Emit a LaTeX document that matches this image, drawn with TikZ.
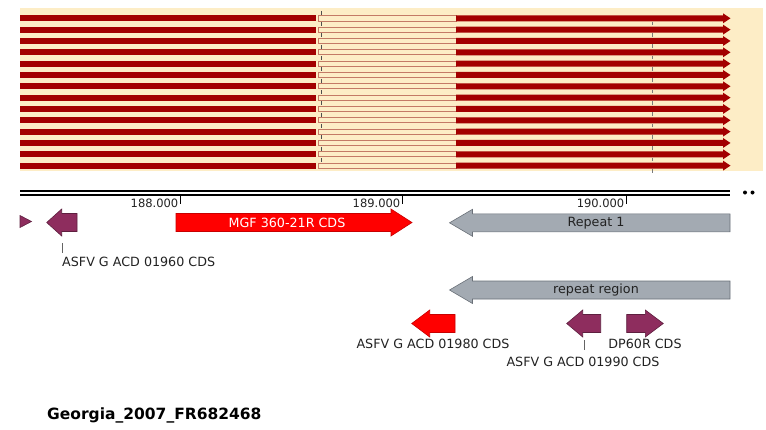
\documentclass[tikz,border=0pt]{standalone}
\usepackage{fontspec}
\setmainfont{DejaVu Sans}
\usetikzlibrary{positioning}
\definecolor{gdpanel}{HTML}{FDEDC6}
\definecolor{gdbar}{HTML}{A30000}
\definecolor{gdthin}{HTML}{C47A66}
\definecolor{gdred}{HTML}{FF0000}
\definecolor{gdredln}{HTML}{C80000}
\definecolor{gdpurp}{HTML}{8E2D5E}
\definecolor{gdpurpln}{HTML}{5E1F3F}
\definecolor{gdgrey}{HTML}{A3AAB2}
\definecolor{gdgreyln}{HTML}{6A7078}
\definecolor{gdink}{HTML}{222222}
\tikzset{
  lbl/.style={font=\fontsize{12.7}{15}\selectfont, text=gdink, inner sep=0pt},
  tck/.style={font=\fontsize{11.5}{14}\selectfont, text=gdink, inner sep=0pt, anchor=east},
  ttl/.style={font=\fontsize{15.5}{18}\selectfont\bfseries, text=black, inner sep=0pt, anchor=west},
  redf/.style={fill=gdred, draw=gdredln, line width=0.6pt},
  purf/.style={fill=gdpurp, draw=gdpurpln, line width=0.6pt},
  greyf/.style={fill=gdgrey, draw=gdgreyln, line width=0.6pt},
  lead/.style={draw=gdink!70, line width=0.5pt},
}
% left / right pointing feature: [style]{tip or tail}{tip or tail}{y}{head}
\newcommand\featL[5][]{\path[#1] (#2,#4) -- ++(#5,-13.5) -- ++(0,4.5) -- (#3,#4-9)
  -- (#3,#4+9) -- (#2+#5,#4+9) -- ++(0,4.5) -- cycle;}
\newcommand\featR[5][]{\path[#1] (#3,#4) -- ++(-#5,-13.5) -- ++(0,4.5) -- (#2,#4-9)
  -- (#2,#4+9) -- (#3-#5,#4+9) -- ++(0,4.5) -- cycle;}

\begin{document}
\begin{tikzpicture}[x=1pt, y=-1pt]
  \useasboundingbox (0,0) rectangle (766,429);
  % alignment panel
  \fill[gdpanel] (20,7.5) rectangle (763,171);
  \foreach \i in {0,...,13}{
    \pgfmathsetmacro\yy{18.3+11.33*\i}
    \fill[gdbar] (20,\yy-3) rectangle (316,\yy+3);
    \draw[gdthin, line width=0.8pt] (318,\yy-2.6) rectangle (456,\yy+2.6);
    \fill[gdbar] (456,\yy-3) -- (723,\yy-3) -- (723,\yy-5) -- (730.5,\yy)
      -- (723,\yy+5) -- (723,\yy+3) -- (456,\yy+3) -- cycle;
    \draw[gdink!80, line width=0.5pt] (321,\yy-7.5) -- (321,\yy-3.5);
    \draw[gdink!60, line width=0.5pt] (652,\yy+3.5) -- (652,\yy+7);
  }
  % ruler
  \draw[black, line width=2.3pt, double=white, double distance=1.3pt] (20,193) -- (730,193);
  \fill[black] (745,192.5) circle (2) (752.5,192.5) circle (2);
  \node[tck] (t188) at (178.5,203) {188.000};
  \node[tck] (t189) at (400.5,203) {189.000};
  \node[tck] (t190) at (624.5,203) {190.000};
  \draw[black, line width=0.7pt] (180.7,196) -- (180.7,204)
    (402.7,196) -- (402.7,204) (626.7,196) -- (626.7,204);
  % features
  \path[purf] (20,215.5) -- (31.5,221.5) -- (20,227.5) -- cycle;
  \featL[purf]{46.7}{77}{222.5}{15}
  \featR[redf]{176}{412}{222.5}{21}
  \featL[greyf]{449.5}{730}{222.8}{23}
  \featL[greyf]{449.5}{730}{290}{23}
  \featL[redf]{411.7}{455}{323.5}{18}
  \featL[purf]{566.7}{600.7}{323.5}{16}
  \featR[purf]{626.7}{663.3}{323.5}{18}
  \node[lbl, text=white] (mgf) at (287,222.5) {MGF 360-21R CDS};
  \node[lbl] (rep1) at (596,222.8) {Repeat 1};
  \node[lbl] (repreg) at (596,290) {repeat region};
  % labels with leads
  \coordinate (f1960) at (62,243);
  \node[lbl, anchor=west] (l1960) at (62,262) {ASFV G ACD 01960 CDS};
  \draw[lead] (f1960) -- (f1960 |- 0,253);
  \node[lbl] (l1980) at (433,343.5) {ASFV G ACD 01980 CDS};
  \coordinate (f1990) at (584,340);
  \node[lbl] (l1990) at (583,361.5) {ASFV G ACD 01990 CDS};
  \draw[lead] (f1990) -- (f1990 |- 0,350);
  \node[lbl] (ldp60) at (645,343.5) {DP60R CDS};
  % genome name
  \node[ttl] (gname) at (47,415) {Georgia\_2007\_FR682468};
\end{tikzpicture}
\end{document}
